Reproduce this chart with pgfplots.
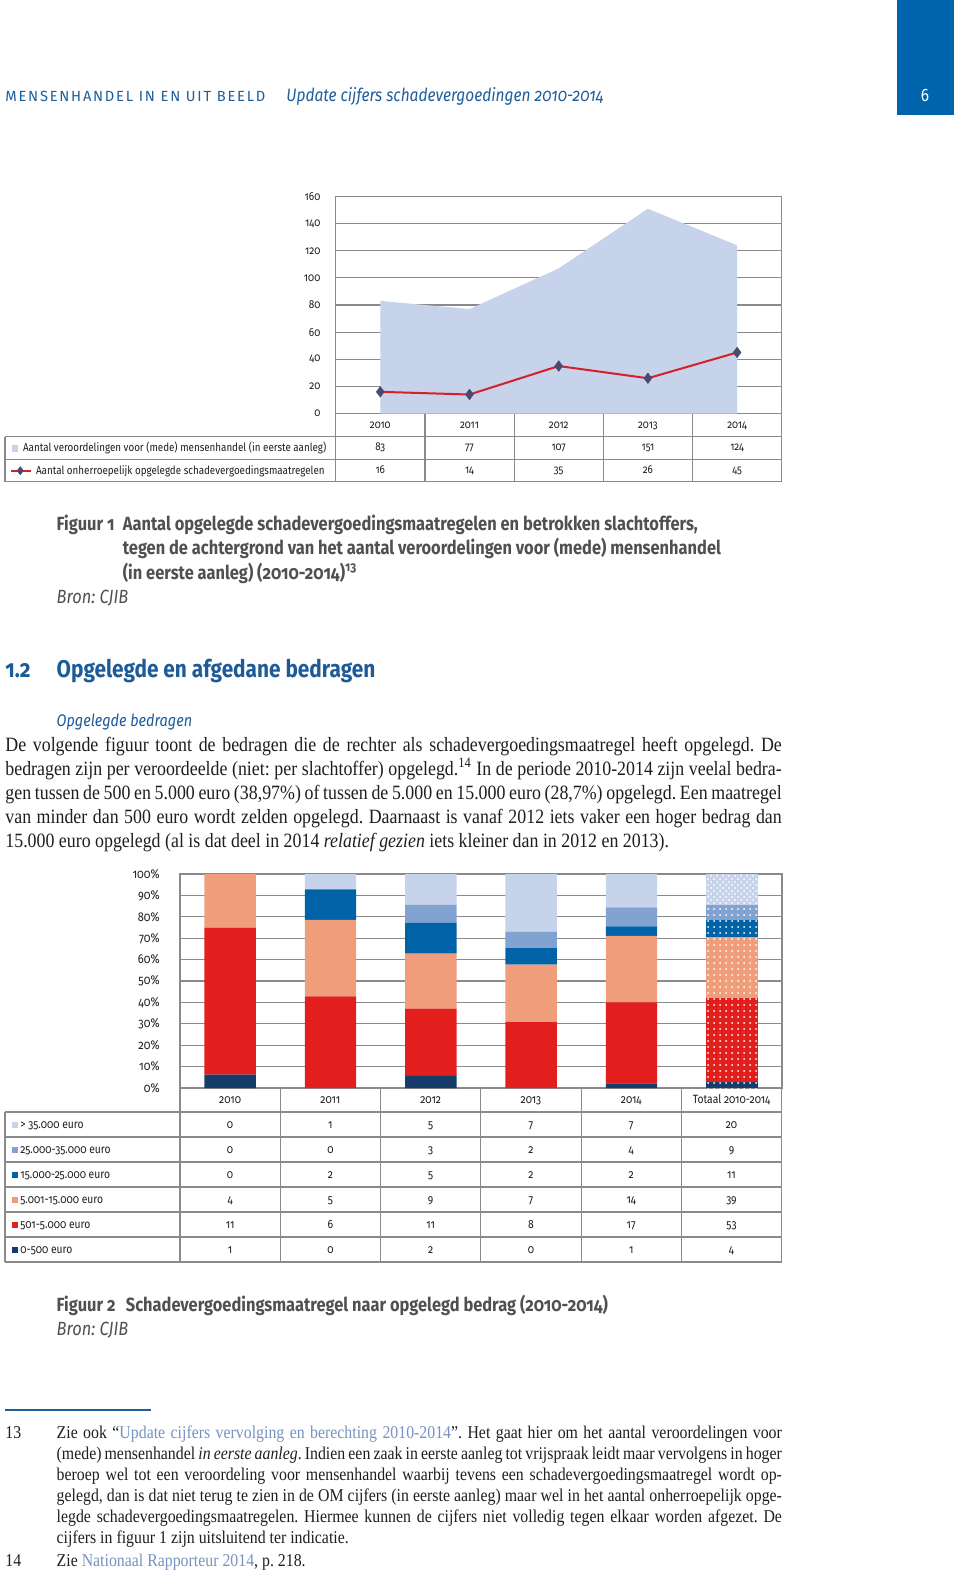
\documentclass[border=0pt]{standalone}
\usepackage{fontspec}
\setmainfont{Liberation Serif}[FakeStretch=0.88]
\setsansfont{Fira Sans}[FakeStretch=0.86, Numbers=OldStyle]
\newfontfamily\capsfont{Fira Sans}[LetterSpace=12]
\newfontfamily\lnumsans{Fira Sans}[FakeStretch=0.86]
\usepackage{pgfplots}
\pgfplotsset{compat=1.18}
\usetikzlibrary{patterns}
\frenchspacing

\definecolor{roblue}{HTML}{0064AC}
\definecolor{hdrblue}{HTML}{1D5E9C}
\definecolor{secblue}{HTML}{1C5B97}
\definecolor{linkblue}{HTML}{7592C0}
\definecolor{capgray}{HTML}{505050}
\definecolor{txt}{HTML}{1E1E1E}
\definecolor{tblgray}{HTML}{8A8A8A}
\definecolor{areablue}{HTML}{C6D3EA}
\definecolor{lnred}{HTML}{D61F26}
\definecolor{mkblue}{HTML}{4A4A6E}
\definecolor{cA}{HTML}{163C69} % 0-500
\definecolor{cB}{HTML}{E21F1C} % 501-5.000
\definecolor{cC}{HTML}{F09D7C} % 5.001-15.000
\definecolor{cD}{HTML}{0062A7} % 15.000-25.000
\definecolor{cE}{HTML}{82A3D1} % 25.000-35.000
\definecolor{cF}{HTML}{C6D3EA} % > 35.000

% justified line / plain line, placed on the baseline
\newcommand\jline[3]{\node[anchor=base west,inner sep=0pt] at (#1) {\makebox[#2][s]{#3}};}
\newcommand\fline[2]{\node[anchor=base west,inner sep=0pt] at (#1) {#2};}

\begin{document}
\begin{tikzpicture}[x=0.5pt,y=-0.5pt]
\path[use as bounding box] (0,0) rectangle (960,1575);

% ---------- running head
\fill[roblue] (897,0) rectangle (954,114.5);
\node[anchor=base,inner sep=0pt,text=white,font=\lnumsans\fontsize{9}{9}\selectfont] at (925,101) {6};
\node[anchor=base west,inner sep=0pt,text=hdrblue,font=\capsfont\fontsize{7.35}{8}\selectfont] at (5,101) {MENSENHANDEL IN EN UIT BEELD};
\node[anchor=base west,inner sep=0pt,text=hdrblue,font=\sffamily\itshape\fontsize{9}{10}\selectfont] at (286,101) {Update cijfers schadevergoedingen 2010-2014};

% ---------- figuur 1
\begin{axis}[
  at={(167.85pt,-206.75pt)}, anchor=south west, scale only axis,
  width=223pt, height=108.5pt,
  xmin=-0.5, xmax=4.5, ymin=0, ymax=160,
  xtick=\empty, ytick={0,20,...,160},
  major tick length=0pt,
  ymajorgrids, grid style={tblgray, line width=0.6pt},
  axis line style={tblgray, line width=0.6pt},
  /pgf/number format/assume math mode=true,
  yticklabel style={font=\sffamily\fontsize{5.8}{6}\selectfont, text=txt, inner sep=0pt, xshift=-7.5pt},
]
\addplot[fill=areablue, draw=none] coordinates {(0,83) (1,77) (2,107) (3,151) (4,124)} \closedcycle;
\addplot[lnred, line width=1pt, mark=diamond*, mark size=2.6pt,
  mark options={fill=mkblue, draw=mkblue, line width=0.3pt}]
  coordinates {(0,16) (1,14) (2,35) (3,26) (4,45)};
\end{axis}

\begin{scope}[draw=tblgray, line width=0.6pt]
\foreach \yy in {436.7,459.2,481.7} \draw (5,\yy) -- (781.7,\yy);
\draw (5,436.7) -- (5,481.7);
\foreach \k in {0,...,5} \draw (335.7+89.2*\k,413.5) -- (335.7+89.2*\k,481.7);
\end{scope}

\begin{scope}[font=\sffamily\fontsize{5.7}{6}\selectfont, text=txt, inner sep=0pt]
\foreach \v [count=\i from 0] in {2010,2011,2012,2013,2014}
  \node[anchor=base] at (380.3+89.2*\i,428) {\v};
\foreach \v [count=\i from 0] in {83,77,107,151,124}
  \node[anchor=base] at (380.3+89.2*\i,450.5) {\v};
\foreach \v [count=\i from 0] in {16,14,35,26,45}
  \node[anchor=base] at (380.3+89.2*\i,473) {\v};
\fill[areablue] (11.7,445) rectangle (18.3,451.7);
\node[anchor=base west] at (22.7,451.5) {Aantal veroordelingen voor (mede) mensenhandel (in eerste aanleg)};
\draw[lnred, line width=1pt] (11,470.7) -- (30.7,470.7);
\fill[mkblue] (20.3,466.2) -- (23.8,470.7) -- (20.3,475.2) -- (16.8,470.7) -- cycle;
\node[anchor=base west] at (35.7,474) {Aantal onherroepelijk opgelegde schadevergoedingsmaatregelen};
\end{scope}

% ---------- bijschrift figuur 1
\begin{scope}[text=capgray, font=\sffamily\fontsize{9.55}{10}\selectfont]
\fline{56.3,530}{\bfseries Figuur 1}
\fline{122.5,530}{\bfseries Aantal opgelegde schadevergoedingsmaatregelen en betrokken slachtoffers,}
\fline{122.5,554.5}{\bfseries tegen de achtergrond van het aantal veroordelingen voor (mede) mensenhandel}
\fline{122.5,579}{\bfseries (in eerste aanleg) (2010-2014)\textsuperscript{13}}
\fline{56.3,603.5}{\itshape Bron: CJIB}
\end{scope}

% ---------- paragraaf 1.2
\begin{scope}[text=secblue, font=\sffamily\bfseries\fontsize{12.1}{13}\selectfont]
\fline{5,677.5}{1.2}
\fline{56.3,677.5}{Opgelegde en afgedane bedragen}
\end{scope}
\node[anchor=base west,inner sep=0pt,text=secblue,font=\sffamily\itshape\fontsize{8.4}{9}\selectfont] at (56.3,726) {Opgelegde bedragen};

\begin{scope}[text=txt, font=\rmfamily\fontsize{10.15}{12}\selectfont]
\jline{5,751}{388.2pt}{De volgende figuur toont de bedragen die de rechter als schadevergoedingsmaatregel heeft opgelegd. De}
\jline{5,775.2}{388.2pt}{bedragen zijn per veroordeelde (niet: per slachtoffer) opgelegd.\textsuperscript{14} In de periode 2010-2014 zijn veelal bedra-}
\jline{5,799.4}{388.2pt}{gen tussen de 500 en 5.000 euro (38,97\%) of tussen de 5.000 en 15.000 euro (28,7\%) opgelegd. Een maatregel}
\jline{5,823.6}{388.2pt}{van minder dan 500 euro wordt zelden opgelegd. Daarnaast is vanaf 2012 iets vaker een hoger bedrag dan}
\fline{5,847.8}{15.000 euro opgelegd (al is dat deel in 2014 \textit{relatief gezien} iets kleiner dan in 2012 en 2013).}
\end{scope}

% ---------- figuur 2
\begin{axis}[
  at={(90pt,-544pt)}, anchor=south west, scale only axis,
  width=301pt, height=107pt,
  xmin=-0.5, xmax=5.5, ymin=0, ymax=100,
  ybar stacked, bar width=25.7pt,
  xtick=\empty, ytick={0,10,...,100},
  major tick length=0pt,
  ymajorgrids, grid style={tblgray, line width=0.6pt},
  axis line style={tblgray, line width=0.6pt},
  /pgf/number format/assume math mode=true,
  yticklabel={\pgfmathprintnumber{\tick}\%},
  yticklabel style={font=\sffamily\fontsize{6.4}{7}\selectfont, text=txt, inner sep=0pt, xshift=-10pt},
]
% per year, share in % (x = 0..4 are 2010..2014)
\addplot[fill=cA, draw=none] coordinates {(0,6.25) (1,0) (2,5.71) (3,0) (4,2.22) (5,0)};
\addplot[fill=cB, draw=none] coordinates {(0,68.75) (1,42.86) (2,31.43) (3,30.77) (4,37.78) (5,0)};
\addplot[fill=cC, draw=none] coordinates {(0,25) (1,35.71) (2,25.71) (3,26.92) (4,31.11) (5,0)};
\addplot[fill=cD, draw=none] coordinates {(0,0) (1,14.29) (2,14.29) (3,7.69) (4,4.44) (5,0)};
\addplot[fill=cE, draw=none] coordinates {(0,0) (1,0) (2,8.57) (3,7.69) (4,8.89) (5,0)};
\addplot[fill=cF, draw=none] coordinates {(0,0) (1,7.14) (2,14.29) (3,26.92) (4,15.56) (5,0)};
% Totaal 2010-2014 (x = 5), dotted
\addplot[fill=cA, draw=none, postaction={pattern=dots, pattern color=white}] coordinates {(0,0) (1,0) (2,0) (3,0) (4,0) (5,2.94)};
\addplot[fill=cB, draw=none, postaction={pattern=dots, pattern color=white}] coordinates {(0,0) (1,0) (2,0) (3,0) (4,0) (5,38.97)};
\addplot[fill=cC, draw=none, postaction={pattern=dots, pattern color=white}] coordinates {(0,0) (1,0) (2,0) (3,0) (4,0) (5,28.68)};
\addplot[fill=cD, draw=none, postaction={pattern=dots, pattern color=white}] coordinates {(0,0) (1,0) (2,0) (3,0) (4,0) (5,8.09)};
\addplot[fill=cE, draw=none, postaction={pattern=dots, pattern color=white}] coordinates {(0,0) (1,0) (2,0) (3,0) (4,0) (5,6.62)};
\addplot[fill=cF, draw=none, postaction={pattern=crosshatch dots, pattern color=white}] coordinates {(0,0) (1,0) (2,0) (3,0) (4,0) (5,14.71)};
\end{axis}

\begin{scope}[draw=tblgray, line width=0.6pt]
\foreach \r in {0,...,6} \draw (5,1112+25*\r) -- (781.7,1112+25*\r);
\draw (5,1112) -- (5,1262);
\foreach \i in {0,...,6} \draw (180+100.28*\i,1088) -- (180+100.28*\i,1262);
\end{scope}

\begin{scope}[font=\sffamily\fontsize{6}{7}\selectfont, text=txt, inner sep=0pt]
\foreach \v [count=\i from 0] in {2010,2011,2012,2013,2014,Totaal 2010-2014}
  \node[anchor=base] at (230.1+100.28*\i,1103) {\v};
\foreach \row [count=\r from 0] in {{0,1,5,7,7,20},{0,0,3,2,4,9},{0,2,5,2,2,11},{4,5,9,7,14,39},{11,6,11,8,17,53},{1,0,2,0,1,4}}
  \foreach \v [count=\c from 0] in \row
    \node[anchor=base] at (230.1+100.28*\c,1128.7+25*\r) {\v};
\foreach \lab/\col [count=\r from 0] in {{> 35.000 euro}/cF,{25.000-35.000 euro}/cE,{15.000-25.000 euro}/cD,{5.001-15.000 euro}/cC,{501-5.000 euro}/cB,{0-500 euro}/cA}{
  \fill[\col] (11.7,1121.5+25*\r) rectangle (17.7,1127.5+25*\r);
  \node[anchor=base west] at (20,1128+25*\r) {\lab};
}
\end{scope}

% ---------- bijschrift figuur 2
\begin{scope}[text=capgray, font=\sffamily\fontsize{9.55}{10}\selectfont]
\fline{56.3,1311}{\bfseries Figuur 2}
\fline{125.5,1311}{\bfseries Schadevergoedingsmaatregel naar opgelegd bedrag (2010-2014)}
\fline{56.3,1335}{\itshape Bron: CJIB}
\end{scope}

% ---------- voetnoten
\draw[hdrblue, line width=1pt] (5,1410) -- (150.5,1410);
\begin{scope}[text=txt, font=\rmfamily\fontsize{9}{10.5}\selectfont]
\fline{5,1438}{13}
\jline{56.3,1438}{362.6pt}{Zie ook “\textcolor{linkblue}{Update cijfers vervolging en berechting 2010-2014}”. Het gaat hier om het aantal veroordelingen voor}
\jline{56.3,1459.1}{362.6pt}{(mede) mensenhandel \textit{in eerste aanleg}. Indien een zaak in eerste aanleg tot vrijspraak leidt maar vervolgens in hoger}
\jline{56.3,1480.2}{362.6pt}{beroep wel tot een veroordeling voor mensenhandel waarbij tevens een schadevergoedingsmaatregel wordt op-}
\jline{56.3,1501.3}{362.6pt}{gelegd, dan is dat niet terug te zien in de OM cijfers (in eerste aanleg) maar wel in het aantal onherroepelijk opge-}
\jline{56.3,1522.4}{362.6pt}{legde schadevergoedingsmaatregelen. Hiermee kunnen de cijfers niet volledig tegen elkaar worden afgezet. De}
\fline{56.3,1543.5}{cijfers in figuur 1 zijn uitsluitend ter indicatie.}
\fline{5,1566}{14}
\fline{56.3,1566}{Zie \textcolor{linkblue}{Nationaal Rapporteur 2014}, p. 218.}
\end{scope}
\end{tikzpicture}
\end{document}
